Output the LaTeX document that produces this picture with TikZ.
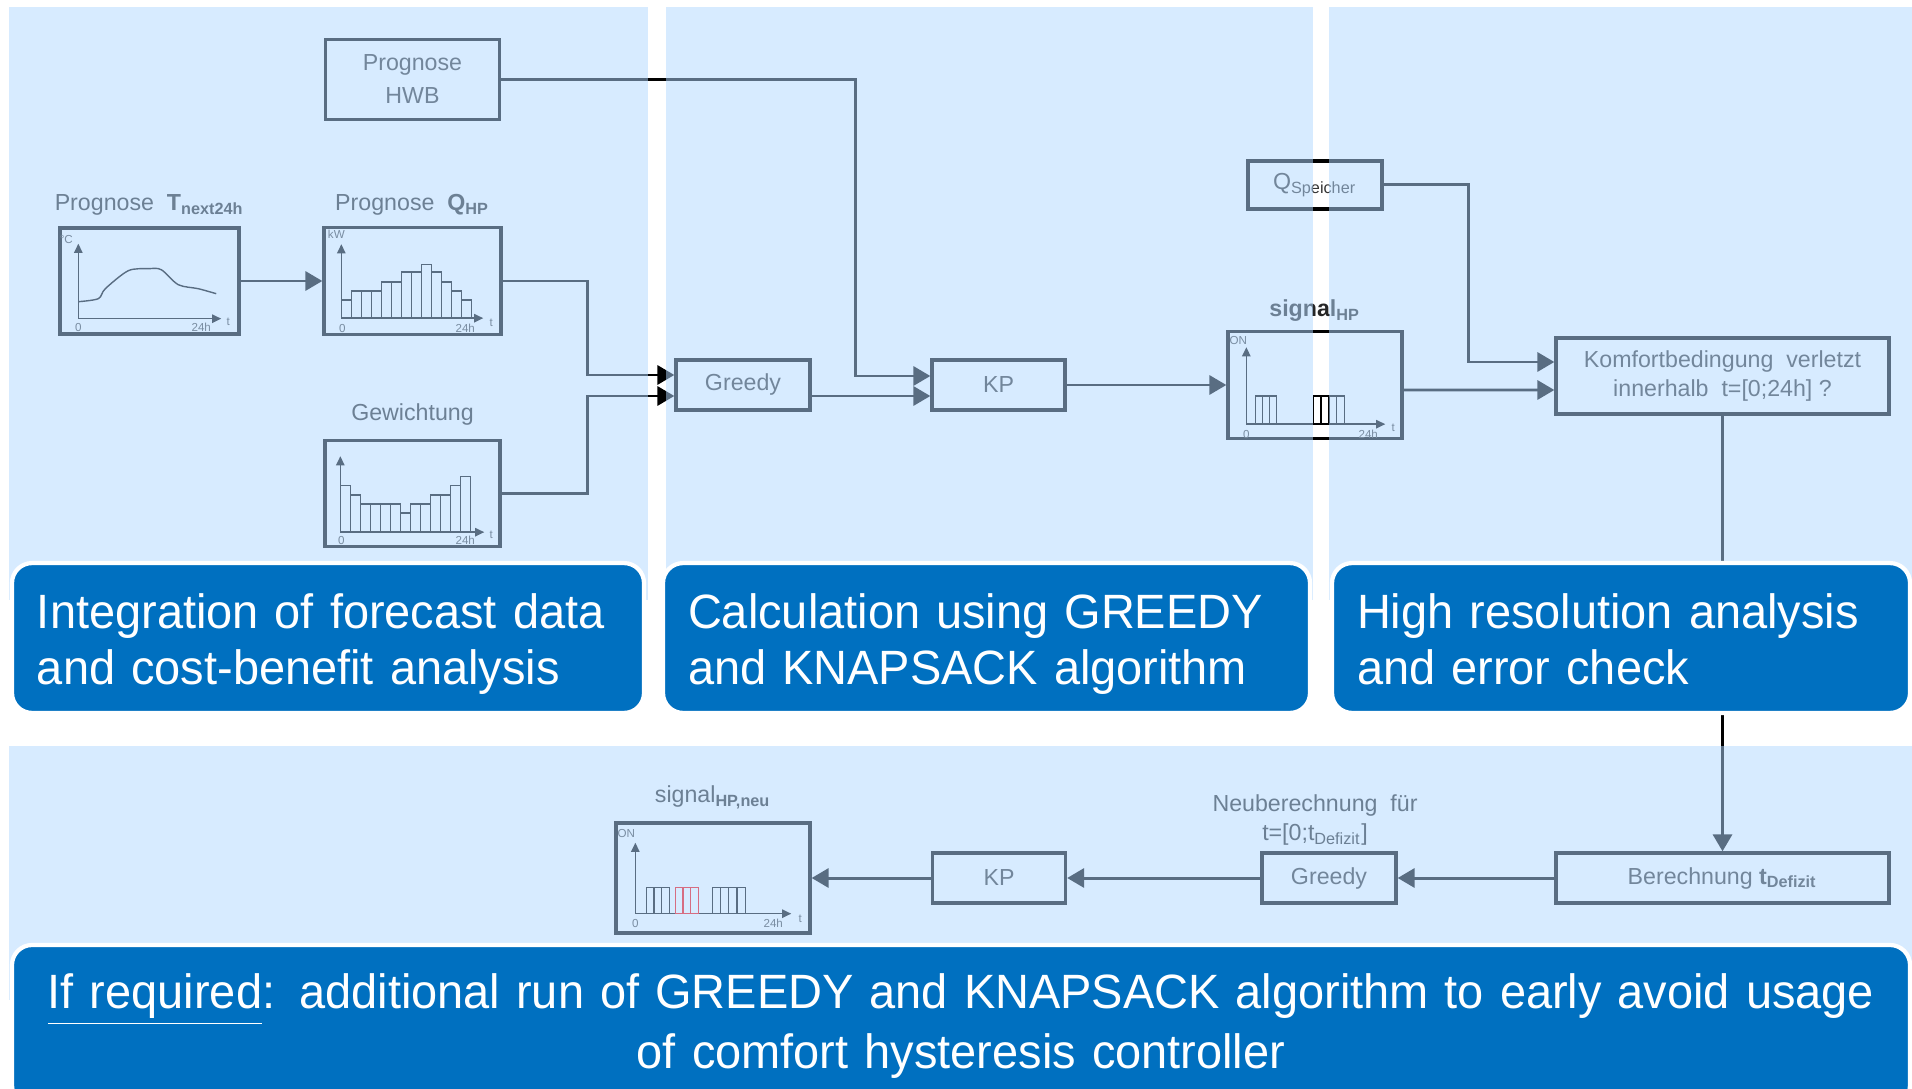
\documentclass[tikz,border=0pt]{standalone}
\usepackage{fontspec}
\setmainfont{Liberation Sans}
\newfontfamily\phasefont[FakeStretch=0.975]{Liberation Sans}
\usepackage{tikz}
\usetikzlibrary{arrows.meta}
\definecolor{panelblue}{RGB}{176,215,255}
\definecolor{phaseblue}{RGB}{0,112,192}
\tikzstyle{flow} = [-{Triangle[length=4.8pt,width=5.4pt]}, line width=0.85pt]
\tikzstyle{box} = [draw, line width=0.95pt, text=black!80, font=\fontsize{6.6}{8.4}\selectfont, align=center, inner sep=0pt]
\tikzstyle{chart} = [draw, line width=0.95pt, inner sep=0pt]
\tikzstyle{lbl} = [text=black!85, font=\fontsize{6.6}{8.4}\selectfont, inner sep=0pt, align=center]
\tikzstyle{tick} = [text=black!75, font=\fontsize{3.3}{4}\selectfont, inner sep=0pt]
\tikzstyle{axis} = [-{Triangle[length=2.6pt,width=2.4pt]}, line width=0.4pt]
\tikzstyle{bar} = [line width=0.4pt]
\tikzstyle{phase} = [rounded corners=0.2cm, fill=phaseblue, draw=white, line width=1.2pt, text=white, font=\phasefont\fontsize{13.7}{15.9}\selectfont, align=left, inner xsep=0.25cm]

\begin{document}
\begin{tikzpicture}[node distance=2.6cm]
	\useasboundingbox (0,0) rectangle (19.12,-10.89);

	% forecast inputs
	\node (tchart) [chart, minimum width=1.79cm, minimum height=1.06cm] at (1.495,-2.81) {};
	\node (qchart) [chart, right of=tchart, xshift=0.03cm, minimum width=1.77cm, minimum height=1.07cm] {};
	\node (gchart) [chart, below of=qchart, yshift=0.475cm, minimum width=1.75cm, minimum height=1.06cm] {};
	\node (hwb) [box, above of=qchart, yshift=-0.585cm, minimum width=1.74cm, minimum height=0.8cm] {Prognose\\[1pt]HWB};
	\node (ttitle) [lbl] at ([yshift=0.21cm]tchart.north) {Prognose \ \textbf{T}\textsubscript{\textbf{next24h}}};
	\node (qtitle) [lbl] at ([yshift=0.21cm]qchart.north) {Prognose \ \textbf{Q}\textsubscript{\textbf{HP}}};
	\node (gtitle) [lbl] at ([yshift=0.24cm]gchart.north) {Gewichtung};

	% greedy + knapsack
	\node (greedy) [box, minimum width=1.34cm, minimum height=0.5cm] at (7.43,-3.85) {Greedy};
	\node (kp) [box, right of=greedy, xshift=-0.045cm, minimum width=1.33cm, minimum height=0.5cm] {KP};
	\node (sigchart) [chart, right of=kp, xshift=0.565cm, minimum width=1.74cm, minimum height=1.07cm] {};
	\node (sigtitle) [lbl] at ([yshift=0.19cm]sigchart.north) {\textbf{signal}\textsubscript{\textbf{HP}}};
	\node (qsp) [box, above of=sigchart, yshift=-0.6cm, minimum width=1.34cm, minimum height=0.48cm] {Q\textsubscript{Speicher}};
	\node (komfort) [box, minimum width=3.33cm, minimum height=0.76cm] at (17.225,-3.76) {Komfortbedingung \ verletzt\\innerhalb \ t=[0;24h] ?};

	% recalculation
	\node (berech) [box, below of=komfort, yshift=-2.42cm, minimum width=3.33cm, minimum height=0.5cm] {Berechnung \textbf{t}\textsubscript{\textbf{Defizit}}};
	\node (greedy2) [box, left of=berech, xshift=-1.335cm, minimum width=1.34cm, minimum height=0.5cm] {Greedy};
	\node (neutext) [lbl] at (13.15,-8.2) {Neuberechnung \ für\\t=[0;t\textsubscript{Defizit}]};
	\node (kp2) [box, left of=greedy2, xshift=-0.7cm, minimum width=1.33cm, minimum height=0.5cm] {KP};
	\node (neuchart) [chart, left of=kp2, xshift=-0.26cm, minimum width=1.94cm, minimum height=1.1cm] {};
	\node (neutitle) [lbl] at ([yshift=0.24cm]neuchart.north) {signal\textsubscript{\textbf{HP,neu}}};

	\coordinate (merge) at (5.87,-3.85);
	\coordinate (kpin) at (8.55,-3.85);
	\coordinate (kin) at (14.68,-3.76);

	\draw [flow] (tchart.east) -- (tchart.east -| qchart.west);
	\draw [flow] (qchart.east) -| ([yshift=0.1cm]merge) -- ([yshift=0.1cm]greedy.west);
	\draw [flow] (gchart.east) -| ([yshift=-0.11cm]merge) -- ([yshift=-0.11cm]greedy.west);
	\draw [flow] (hwb.east) -| ([yshift=0.09cm]kpin) -- ([yshift=0.09cm]kp.west);
	\draw [flow] ([yshift=-0.11cm]greedy.east) -- ([yshift=-0.11cm]kp.west);
	\draw [flow] (kp.east) -- (sigchart.west);
	\draw [flow] (qsp.east) -| ([yshift=0.14cm]kin) -- ([yshift=0.14cm]komfort.west);
	\draw [flow] ([yshift=-0.05cm]sigchart.east) -- ([yshift=-0.14cm]komfort.west);
	\draw [flow] (komfort) -- (berech);
	\draw [flow] (berech) -- (greedy2);
	\draw [flow] (greedy2) -- (kp2);
	\draw [flow] (kp2) -- (neuchart);

	% chart contents
	\begin{scope}[shift={(tchart.south west)}, x=0.01cm, y=0.01cm]
		\draw [axis] (20,17) -- (20,92);
		\draw [axis] (20,17) -- (163,17);
		\draw [bar] plot[smooth, tension=0.5] coordinates {(20,34) (40,37) (47,47) (70,65) (90,67) (103,66) (120,51) (140,47) (158,42)};
		\node (tunit) [tick] at (8,96) {°C};
		\node (tzero) [tick] at (20,8) {0};
		\node (tend) [tick] at (143,8) {24h};
		\node (tt) [tick] at (170,14) {t};
	\end{scope}
	\begin{scope}[shift={(qchart.south west)}, x=0.01cm, y=0.01cm]
		\draw [axis] (19,18) -- (19,92);
		\draw [axis] (19,18) -- (161,18);
		\foreach \h [count=\i] in {18,27,27,27,36,36,46,46,54,46,36,27,18}
			\draw [bar] ({19+10*(\i-1)},18) rectangle ++(10,\h);
		\node (qunit) [tick] at (14,102) {kW};
		\node (qzero) [tick] at (20,8) {0};
		\node (qend) [tick] at (143,8) {24h};
		\node (qt) [tick] at (169,13) {t};
	\end{scope}
	\begin{scope}[shift={(gchart.south west)}, x=0.01cm, y=0.01cm]
		\draw [axis] (17,16) -- (17,92);
		\draw [axis] (17,16) -- (161,16);
		\foreach \h [count=\i] in {47,37,28,28,28,28,19,28,28,37,37,47,56}
			\draw [bar] ({17+10*(\i-1)},16) rectangle ++(10,\h);
		\node (gzero) [tick] at (18,8) {0};
		\node (gend) [tick] at (142,8) {24h};
		\node (gt) [tick] at (168,13) {t};
	\end{scope}
	\begin{scope}[shift={(sigchart.south west)}, x=0.01cm, y=0.01cm]
		\draw [axis] (20,16) -- (20,93);
		\draw [axis] (20,16) -- (159,16);
		\foreach \s in {29,36,43}
			\draw [bar] (\s,16) rectangle ++(7,28);
		\foreach \s in {87,94.75,102.5,110.25}
			\draw [bar] (\s,16) rectangle ++(7.75,28);
		\node (sunit) [tick] at (12,100) {ON};
		\node (szero) [tick] at (20,6) {0};
		\node (send) [tick] at (142,6) {24h};
		\node (st) [tick] at (167,12) {t};
	\end{scope}
	\begin{scope}[shift={(neuchart.south west)}, x=0.01cm, y=0.01cm]
		\draw [axis] (21,21) -- (21,92);
		\draw [axis] (21,21) -- (177,21);
		\foreach \s in {32,39.7,47.4}
			\draw [bar] (\s,21) rectangle ++(7.7,26);
		\foreach \s in {61,68.7,76.4}
			\draw [bar, red] (\s,21) rectangle ++(7.7,26);
		\foreach \s in {98,106.25,114.5,122.75}
			\draw [bar] (\s,21) rectangle ++(8.25,26);
		\node (nunit) [tick] at (12,101) {ON};
		\node (nzero) [tick] at (21,11) {0};
		\node (nend) [tick] at (159,11) {24h};
		\node (nt) [tick] at (186,16) {t};
	\end{scope}

	% panels
	\fill [panelblue, fill opacity=0.51] (0.09,-0.07) rectangle (6.48,-6.0);
	\fill [panelblue, fill opacity=0.51] (6.66,-0.07) rectangle (13.13,-6.0);
	\fill [panelblue, fill opacity=0.51] (13.29,-0.07) rectangle (19.12,-6.0);
	\fill [panelblue, fill opacity=0.51] (0.09,-7.46) rectangle (19.12,-10.0);

	\node (phase1) [phase, minimum width=6.32cm, minimum height=1.46cm, text width=5.82cm] at (3.28,-6.38) {\rule{0pt}{15.3pt}Integration of forecast data\\and cost-benefit analysis\strut};
	\node (phase2) [phase, minimum width=6.47cm, minimum height=1.46cm, text width=5.97cm] at (9.865,-6.38) {\rule{0pt}{15.3pt}Calculation using GREEDY\\and KNAPSACK algorithm\strut};
	\node (phase3) [phase, minimum width=5.78cm, minimum height=1.46cm, text width=5.28cm] at (16.21,-6.38) {\rule{0pt}{15.3pt}High resolution analysis\\and error check\strut};
	\node (phase4) [phase, minimum width=18.98cm, minimum height=1.6cm, text width=18.7cm, inner xsep=0.14cm, align=center] at (9.61,-10.25) {\rule{0pt}{12.5pt}\underline{If required}: additional run of GREEDY and KNAPSACK algorithm to early avoid usage\\of comfort hysteresis controller\strut};
\end{tikzpicture}
\end{document}
